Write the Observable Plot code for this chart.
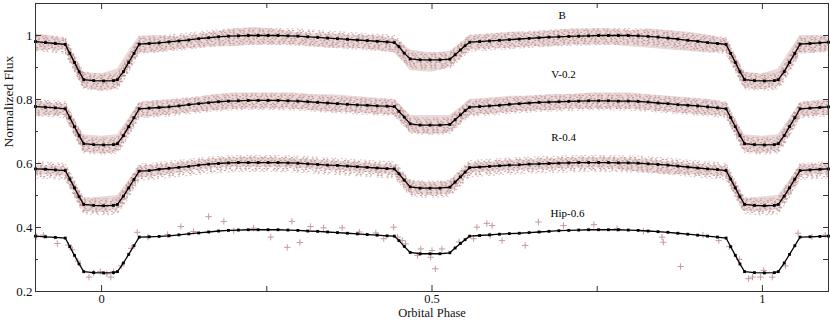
<!DOCTYPE html>
<html>
<head>
<meta charset="utf-8">
<script src="https://cdn.jsdelivr.net/npm/d3@7"></script>
<script src="https://cdn.jsdelivr.net/npm/@observablehq/plot@0.6"></script>
<style>
  html, body { margin: 0; padding: 0; background: #fff; }
</style>
</head>
<body>
<div id="chart"></div>
<script>
// ---------- model (black line + dots) ----------
const phase = [
  -0.1, -0.085, -0.07, -0.055, -0.048, -0.041, -0.034, -0.027, -0.012, 0.003, 0.018, 0.024, 0.033, 0.041, 0.049, 0.057,
  0.072, 0.087, 0.102, 0.117, 0.132, 0.147, 0.162, 0.177, 0.192, 0.207, 0.222, 0.237, 0.252, 0.267, 0.282, 0.297, 0.312, 0.327, 0.342, 0.357, 0.372, 0.387, 0.402, 0.417, 0.432,
  0.443, 0.45, 0.458, 0.467, 0.482, 0.497, 0.512, 0.527, 0.535, 0.543, 0.55, 0.557,
  0.572, 0.587, 0.602, 0.617, 0.632, 0.647, 0.662, 0.677, 0.692, 0.707, 0.722, 0.737, 0.752, 0.767, 0.782, 0.797, 0.812, 0.827, 0.842, 0.857, 0.872, 0.887, 0.902, 0.917, 0.932,
  0.945, 0.952, 0.959, 0.966, 0.973, 0.988, 1.003, 1.018, 1.024, 1.033, 1.041, 1.049, 1.057,
  1.072, 1.087, 1.1
];
const fluxB = [
  0.981, 0.978, 0.975, 0.972, 0.944, 0.916, 0.887, 0.862, 0.859, 0.858, 0.859, 0.862, 0.887, 0.916, 0.944, 0.973,
  0.975, 0.977, 0.980, 0.983, 0.986, 0.990, 0.993, 0.996, 0.998, 0.999, 1.000, 1.000, 1.000, 1.000, 0.999, 0.998, 0.996, 0.994, 0.992, 0.990, 0.988, 0.986, 0.984, 0.982, 0.980,
  0.978, 0.965, 0.945, 0.927, 0.924, 0.924, 0.924, 0.926, 0.940, 0.955, 0.968, 0.979,
  0.981, 0.983, 0.985, 0.987, 0.989, 0.991, 0.993, 0.995, 0.996, 0.997, 0.998, 0.999, 1.000, 1.000, 1.000, 1.000, 0.999, 0.997, 0.995, 0.992, 0.989, 0.985, 0.982, 0.978, 0.975,
  0.972, 0.944, 0.916, 0.887, 0.862, 0.859, 0.858, 0.859, 0.862, 0.887, 0.916, 0.944, 0.973,
  0.975, 0.977, 0.979
];
const fluxV = [
  0.778, 0.776, 0.774, 0.771, 0.743, 0.715, 0.687, 0.662, 0.659, 0.658, 0.659, 0.662, 0.687, 0.715, 0.743, 0.771,
  0.773, 0.775, 0.777, 0.780, 0.784, 0.787, 0.790, 0.793, 0.795, 0.796, 0.797, 0.797, 0.797, 0.797, 0.796, 0.795, 0.793, 0.791, 0.789, 0.787, 0.785, 0.783, 0.782, 0.780, 0.779,
  0.778, 0.763, 0.745, 0.724, 0.720, 0.720, 0.720, 0.722, 0.737, 0.752, 0.765, 0.776,
  0.778, 0.780, 0.782, 0.785, 0.787, 0.789, 0.791, 0.792, 0.793, 0.794, 0.795, 0.796, 0.796, 0.796, 0.795, 0.795, 0.794, 0.792, 0.789, 0.787, 0.784, 0.782, 0.780, 0.777, 0.774,
  0.771, 0.743, 0.715, 0.687, 0.662, 0.659, 0.658, 0.659, 0.662, 0.687, 0.715, 0.743, 0.771,
  0.773, 0.775, 0.777
];
const fluxR = [
  0.583, 0.582, 0.580, 0.578, 0.551, 0.524, 0.496, 0.472, 0.469, 0.468, 0.469, 0.472, 0.498, 0.524, 0.550, 0.576,
  0.578, 0.582, 0.585, 0.588, 0.591, 0.595, 0.598, 0.600, 0.602, 0.603, 0.603, 0.603, 0.603, 0.603, 0.602, 0.601, 0.599, 0.597, 0.595, 0.594, 0.592, 0.590, 0.588, 0.586, 0.584,
  0.583, 0.568, 0.548, 0.527, 0.523, 0.523, 0.523, 0.526, 0.542, 0.558, 0.573, 0.587,
  0.589, 0.591, 0.593, 0.595, 0.596, 0.598, 0.599, 0.600, 0.601, 0.602, 0.603, 0.603, 0.603, 0.603, 0.602, 0.602, 0.601, 0.599, 0.597, 0.595, 0.592, 0.589, 0.586, 0.583, 0.581,
  0.578, 0.551, 0.524, 0.496, 0.472, 0.469, 0.468, 0.469, 0.472, 0.498, 0.524, 0.551, 0.578,
  0.580, 0.582, 0.583
];
const fluxHip = [
  0.373, 0.371, 0.369, 0.367, 0.340, 0.313, 0.286, 0.262, 0.259, 0.258, 0.259, 0.262, 0.289, 0.316, 0.343, 0.370,
  0.371, 0.372, 0.374, 0.377, 0.380, 0.383, 0.386, 0.389, 0.391, 0.392, 0.393, 0.393, 0.393, 0.393, 0.392, 0.391, 0.389, 0.388, 0.386, 0.384, 0.382, 0.380, 0.378, 0.376, 0.374,
  0.373, 0.359, 0.341, 0.322, 0.318, 0.318, 0.318, 0.321, 0.336, 0.350, 0.362, 0.373,
  0.375, 0.377, 0.379, 0.381, 0.382, 0.384, 0.386, 0.388, 0.390, 0.391, 0.392, 0.393, 0.393, 0.393, 0.393, 0.392, 0.391, 0.389, 0.387, 0.385, 0.382, 0.379, 0.376, 0.373, 0.370,
  0.367, 0.340, 0.313, 0.286, 0.262, 0.259, 0.258, 0.259, 0.262, 0.289, 0.316, 0.343, 0.370,
  0.371, 0.372, 0.373
];

const cloudPhase = [-0.1, -0.08, -0.055, -0.041, -0.027, 0, 0.024, 0.041, 0.057, 0.08, 0.11, 0.14, 0.17, 0.2, 0.23, 0.26, 0.29, 0.32, 0.35, 0.38, 0.41, 0.443, 0.458, 0.467, 0.5, 0.527, 0.543, 0.557, 0.59, 0.62, 0.65, 0.68, 0.71, 0.74, 0.77, 0.8, 0.83, 0.86, 0.89, 0.92, 0.945, 0.959, 0.973, 1.0, 1.024, 1.041, 1.057, 1.08, 1.1];
const cloudLoB = [0.95, 0.955, 0.955, 0.895, 0.835, 0.825, 0.835, 0.9, 0.945, 0.945, 0.955, 0.96, 0.965, 0.965, 0.97, 0.97, 0.97, 0.965, 0.96, 0.96, 0.955, 0.945, 0.915, 0.89, 0.885, 0.9, 0.93, 0.955, 0.96, 0.96, 0.965, 0.965, 0.97, 0.97, 0.97, 0.965, 0.96, 0.955, 0.95, 0.945, 0.95, 0.895, 0.835, 0.83, 0.84, 0.9, 0.945, 0.945, 0.95];
const cloudHiB = [1.005, 1.0, 0.99, 0.935, 0.885, 0.88, 0.895, 0.95, 0.998, 1.0, 0.995, 1.0, 1.01, 1.02, 1.025, 1.02, 1.01, 1.005, 1.005, 1.0, 1.0, 0.99, 0.97, 0.955, 0.945, 0.95, 0.975, 1.0, 1.005, 1.01, 1.01, 1.015, 1.02, 1.02, 1.02, 1.015, 1.02, 1.015, 1.01, 1.0, 0.99, 0.935, 0.885, 0.88, 0.895, 0.95, 1.0, 1.0, 0.995];
const cloudLoV = [0.745, 0.75, 0.75, 0.695, 0.635, 0.63, 0.635, 0.695, 0.745, 0.745, 0.755, 0.76, 0.765, 0.77, 0.77, 0.77, 0.77, 0.765, 0.76, 0.76, 0.755, 0.75, 0.72, 0.695, 0.69, 0.695, 0.725, 0.75, 0.755, 0.76, 0.765, 0.765, 0.77, 0.77, 0.77, 0.77, 0.765, 0.76, 0.755, 0.75, 0.75, 0.695, 0.635, 0.632, 0.64, 0.695, 0.745, 0.75, 0.75];
const cloudHiV = [0.795, 0.79, 0.785, 0.735, 0.69, 0.685, 0.69, 0.74, 0.79, 0.795, 0.8, 0.805, 0.815, 0.82, 0.82, 0.82, 0.82, 0.815, 0.815, 0.81, 0.805, 0.8, 0.77, 0.75, 0.75, 0.75, 0.775, 0.8, 0.805, 0.81, 0.81, 0.815, 0.815, 0.82, 0.82, 0.82, 0.815, 0.81, 0.805, 0.8, 0.79, 0.735, 0.69, 0.685, 0.69, 0.74, 0.79, 0.795, 0.795];
const cloudLoR = [0.565, 0.565, 0.56, 0.505, 0.45, 0.447, 0.455, 0.505, 0.555, 0.56, 0.568, 0.578, 0.585, 0.588, 0.588, 0.588, 0.586, 0.583, 0.578, 0.575, 0.57, 0.565, 0.53, 0.505, 0.5, 0.505, 0.54, 0.57, 0.575, 0.578, 0.58, 0.582, 0.585, 0.586, 0.585, 0.575, 0.57, 0.565, 0.565, 0.562, 0.56, 0.505, 0.45, 0.45, 0.455, 0.505, 0.56, 0.565, 0.565];
const cloudHiR = [0.595, 0.592, 0.59, 0.54, 0.49, 0.495, 0.5, 0.545, 0.59, 0.595, 0.6, 0.608, 0.615, 0.618, 0.62, 0.618, 0.615, 0.612, 0.608, 0.605, 0.6, 0.595, 0.565, 0.545, 0.54, 0.545, 0.575, 0.6, 0.605, 0.61, 0.612, 0.615, 0.617, 0.618, 0.618, 0.615, 0.612, 0.605, 0.6, 0.595, 0.59, 0.54, 0.49, 0.495, 0.5, 0.545, 0.595, 0.598, 0.598];

// Hipparcos points (phase, flux-0.6)
const hipPoints = [
  [-0.098, 0.372], [-0.088, 0.376], [-0.067, 0.35], [-0.05, 0.345], [-0.044, 0.33], [-0.036, 0.295],
  [-0.019, 0.245], [-0.012, 0.258], [-0.002, 0.2625], [0.008, 0.255], [0.014, 0.245], [0.018, 0.262],
  [0.03, 0.28], [0.045, 0.335], [0.054, 0.385], [0.07, 0.37], [0.1, 0.378], [0.12, 0.403],
  [0.139, 0.3875], [0.162, 0.434], [0.185, 0.419], [0.2, 0.39], [0.23, 0.398], [0.256, 0.37],
  [0.281, 0.338], [0.288, 0.419], [0.3, 0.353], [0.316, 0.403], [0.336, 0.399], [0.364, 0.399],
  [0.39, 0.386], [0.415, 0.383], [0.427, 0.365], [0.442, 0.401], [0.448, 0.37], [0.455, 0.359],
  [0.46, 0.349], [0.478, 0.3125], [0.483, 0.333], [0.498, 0.307], [0.5, 0.328], [0.505, 0.271],
  [0.515, 0.333], [0.541, 0.355], [0.563, 0.365], [0.568, 0.401], [0.583, 0.413], [0.588, 0.375],
  [0.591, 0.406], [0.606, 0.359], [0.641, 0.344], [0.661, 0.417], [0.699, 0.406], [0.745, 0.409],
  [0.78, 0.396], [0.82, 0.388], [0.848, 0.37], [0.85, 0.354], [0.876, 0.278], [0.91, 0.376],
  [0.934, 0.359], [0.95, 0.34], [0.965, 0.3], [0.979, 0.24], [0.985, 0.245], [0.997, 0.245],
  [1.002, 0.266], [1.015, 0.245], [1.035, 0.28], [1.054, 0.382], [1.075, 0.371], [1.095, 0.376]
];

// curve labels
const labelText = ["B", "V-0.2", "R-0.4", "Hip-0.6"];
const labelPhase = [0.697, 0.699, 0.699, 0.705];
const labelFlux = [1.062, 0.878, 0.681, 0.444];

// axes ticks
const xMajor = [0, 0.5, 1];
const xMinor = [0.25, 0.75];
const xTickLabels = ["0", "0.5", "1"];
const yMajor = [0.2, 0.4, 0.6, 0.8, 1];
const yMinor = [0.3, 0.5, 0.7, 0.9];
const yTickLabels = ["0.2", "0.4", "0.6", "0.8", "1"];

const W = 830, H = 320, mT = 3, mB = 29, mL = 35, mR = 2;
const fw = W - mL - mR, fh = H - mT - mB;
const dotColor = "#c69a9a";
const grainColor = "#c08b8b";
const axisColor = "#333";

// grain rows (pixel offsets around each model curve) that give the clouds a speckled texture
const grainOffsets = [-7, -5.4, -3.8, -2.2, -0.6, 1, 2.6, 4.2, 5.8, 7.4, 9];
const grainDashes = [
  "1.1 4.3 1.1 2.9 1.1 6.1 1.1 3.6",
  "1.1 3.1 1.1 5.4 1.1 2.2 1.1 4.8",
  "1.1 5.7 1.1 2.6 1.1 3.9 1.1 2.4",
  "1.1 2.4 1.1 4.9 1.1 3.3 1.1 5.9"
];

const clouds = [[cloudLoB, cloudHiB], [cloudLoV, cloudHiV], [cloudLoR, cloudHiR]];
const models = [fluxB, fluxV, fluxR, fluxHip];

const marks = [];
clouds.forEach(([lo, hi], k) => {
  marks.push(Plot.areaY(cloudPhase, {x: cloudPhase, y1: lo, y2: hi, fill: dotColor, fillOpacity: 0.38}));
  grainOffsets.forEach((g, j) => {
    marks.push(Plot.line(phase, {
      x: phase, y: models[k], dy: g, stroke: grainColor, strokeWidth: 1.15,
      strokeOpacity: Math.abs(g - 1) > 6.5 ? 0.5 : 0.85,
      strokeDasharray: grainDashes[(j + k) % 4], strokeDashoffset: j * 3.7 + k * 1.9
    }));
  });
});
marks.push(Plot.dot(hipPoints, {x: d => d[0], y: d => d[1], symbol: "plus", r: 2.2, stroke: dotColor, strokeWidth: 1}));
models.forEach(f => {
  marks.push(Plot.line(phase, {x: phase, y: f, stroke: "black", strokeWidth: 1.3}));
  marks.push(Plot.dot(phase, {x: phase, y: f, symbol: "square", r: 1.6, fill: "black"}));
});
marks.push(Plot.text(labelText, {x: labelPhase, y: labelFlux, text: d => d, fontSize: 11, fill: "black"}));
// ticks (inward)
marks.push(Plot.tickX(xMajor, {x: d => d, insetTop: fh - 6, stroke: axisColor}));
marks.push(Plot.tickX(xMinor, {x: d => d, insetTop: fh - 5, stroke: axisColor}));
marks.push(Plot.tickX(xMajor, {x: d => d, insetBottom: fh - 6, stroke: axisColor}));
marks.push(Plot.tickX(xMinor, {x: d => d, insetBottom: fh - 5, stroke: axisColor}));
marks.push(Plot.tickY(yMajor, {y: d => d, insetRight: fw - 6, stroke: axisColor}));
marks.push(Plot.tickY(yMinor, {y: d => d, insetRight: fw - 3, stroke: axisColor}));
marks.push(Plot.tickY(yMajor, {y: d => d, insetLeft: fw - 5, stroke: axisColor}));
marks.push(Plot.tickY(yMinor, {y: d => d, insetLeft: fw - 5, stroke: axisColor}));
marks.push(Plot.frame({stroke: axisColor, strokeWidth: 1}));
// tick labels
marks.push(Plot.text(xMajor, {x: d => d, frameAnchor: "bottom", dy: 7.3, text: (d, i) => xTickLabels[i], fontSize: 12.5, lineAnchor: "middle", fill: "#111"}));
marks.push(Plot.text(yMajor, {y: d => d, frameAnchor: "left", dx: -3, text: (d, i) => yTickLabels[i], fontSize: 13, textAnchor: "end", fill: "#111"}));
// axis titles
marks.push(Plot.text(["Orbital Phase"], {frameAnchor: "bottom", dy: 21.8, text: d => d, fontSize: 12.5, lineAnchor: "middle", fill: "#111"}));
marks.push(Plot.text(["Normalized Flux"], {frameAnchor: "left", dx: -26.5, text: d => d, fontSize: 13.5, rotate: -90, lineAnchor: "middle", fill: "#111"}));

const chart = Plot.plot({
  width: W, height: H,
  marginTop: mT, marginBottom: mB, marginLeft: mL, marginRight: mR,
  x: {domain: [-0.1, 1.1], axis: null},
  y: {domain: [0.2, 1.1], axis: null},
  style: {fontFamily: "'Liberation Serif', 'Times New Roman', serif", fontSize: "13px", background: "white", color: "black"},
  marks
});

document.getElementById("chart").appendChild(chart);
</script>
</body>
</html>
